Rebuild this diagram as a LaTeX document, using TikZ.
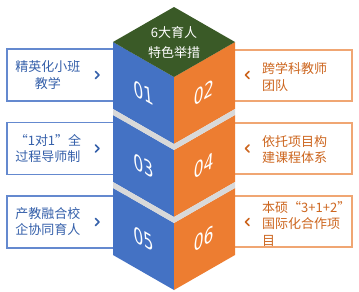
\documentclass[tikz,border=0pt]{standalone}
\usepackage{fontspec}
\setmainfont{Noto Sans CJK SC}
\newfontfamily\numfont{DejaVu Sans}
\usetikzlibrary{positioning}

\definecolor{cubegreen}{HTML}{3A5A27}
\definecolor{cubeblue}{HTML}{4472C4}
\definecolor{cubeorange}{HTML}{ED7D31}
\definecolor{gapgray}{HTML}{D9D9D9}
\definecolor{lline}{HTML}{6489CF}
\definecolor{ltext}{HTML}{3560AA}
\definecolor{rline}{HTML}{F0A673}
\definecolor{rtext}{HTML}{CD661F}

\tikzset{
  lbox/.style={draw=lline, line width=1.1pt, fill=white, minimum width=123pt, minimum height=52pt, inner sep=0pt},
  rbox/.style={draw=rline, line width=1.1pt, fill=white, minimum width=124pt, minimum height=51pt, inner sep=0pt},
  ltxt/.style={text=ltext, align=center, font=\fontsize{13}{16.5}\selectfont, inner sep=0pt},
  rtxt/.style={text=rtext, align=left, anchor=west, font=\fontsize{13}{16.5}\selectfont, inner sep=0pt},
  toptxt/.style={text=white, align=center, font=\fontsize{13}{20}\selectfont, inner sep=0pt},
  numtxt/.style={text=white, font=\numfont\fontsize{18}{18}\selectfont, inner sep=0pt},
  chev/.style={line width=1.7pt, line cap=round, line join=round}
}

\begin{document}
\begin{tikzpicture}[x=1pt, y=-1pt]
    \useasboundingbox (0,0) rectangle (359,292);

    % left boxes
    \node[lbox] (lb1) at (68.5,75) {};
    \node[lbox] (lb2) at (68.5,148.5) {};
    \node[lbox] (lb3) at (68.5,222) {};
    \node[ltxt] (lt1) at (48,75) {精英化小班\\教学};
    \node[ltxt] (lt2) at (48,148.5) {“1对1”全\\过程导师制};
    \node[ltxt] (lt3) at (48,221.5) {产教融合校\\企协同育人};

    % right boxes
    \node[rbox] (rb1) at (290,75.5) {};
    \node[rbox] (rb2) at (290,148.5) {};
    \node[rbox] (rb3) at (290,221.5) {};
    \node[rtxt] (rt1) at (262,77) {跨学科教师\\团队};
    \node[rtxt] (rt2) at (262,149.5) {依托项目构\\建课程体系};
    \node[rtxt] (rt3) at (262,223.5) {本硕“3+1+2”\\国际化合作项\\目};

    % arrows at the boxes
    \foreach \y in {75,148.5,222} {
      \draw[chev, ltext] (95.5,\y-3.5) -- (99,\y) -- (95.5,\y+3.5);
      \draw[chev, rtext] (249,\y-3.5) -- (245.5,\y) -- (249,\y+3.5);
    }

    % cube blocks
    \foreach \t/\a/\b in {42/01/02, 115/03/04, 188/05/06} {
      \fill[cubeblue] (113,\t) -- (174,\t+35) -- (174,\t+102) -- (113,\t+67) -- cycle;
      \fill[cubeorange] (174,\t+35) -- (235,\t) -- (235,\t+67) -- (174,\t+102) -- cycle;
      \node[numtxt, rotate=-30, xslant=-0.7] (n\a) at (143.5,\t+51) {\a};
      \node[numtxt, rotate=30, xslant=0.7] (n\b) at (204.5,\t+51) {\b};
    }

    % gaps between blocks
    \foreach \t in {115,188}
      \fill[gapgray] (113,\t-6) -- (174,\t+29) -- (235,\t-6) -- (235,\t) -- (174,\t+35) -- (113,\t) -- cycle;

    % top face
    \fill[cubegreen] (174,7) -- (235,42) -- (174,77) -- (113,42) -- cycle;
    \node[toptxt] (top1) at (174,33) {6大育人};
    \node[toptxt, below=7pt of top1] (top2) {特色举措};
\end{tikzpicture}
\end{document}
